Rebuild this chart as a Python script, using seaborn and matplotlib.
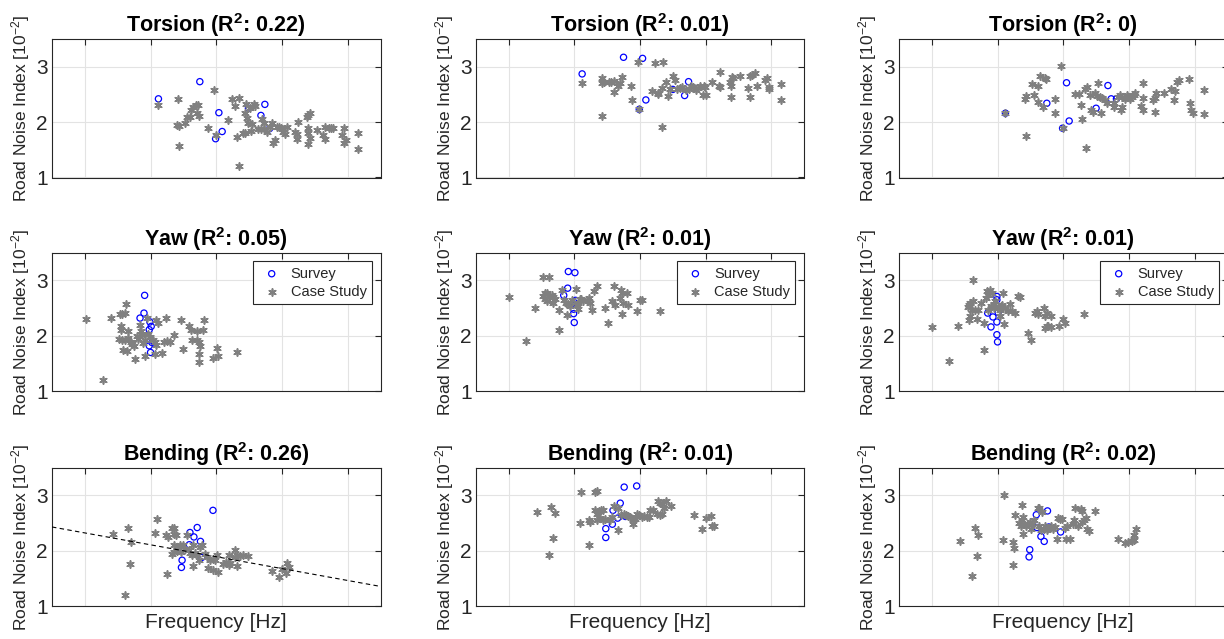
import numpy as np
import pandas as pd
import matplotlib
matplotlib.use("Agg")
import matplotlib.pyplot as plt
import seaborn as sns

# ---------------- data ----------------
modes = ["Torsion", "Yaw", "Bending"]
r2_torsion = ["0.22", "0.01", "0"]
r2_yaw = ["0.05", "0.01", "0.01"]
r2_bending = ["0.26", "0.01", "0.02"]

# fit line shown in Bending, column 1
fit_intercept = 2.43
fit_slope = -0.2146

# ---- Torsion, column 1
tor1_surv_x = [1.62, 2.25, 2.54, 2.59, 2.49, 2.99, 3.18, 3.24, 3.31]
tor1_surv_y = [2.42, 2.73, 2.17, 1.83, 1.70, 2.25, 2.12, 2.32, 1.88]
tor1_case_x = [1.62, 1.92, 1.91, 1.94, 1.93, 2.03, 2.06, 2.10, 2.12, 2.15, 2.19, 2.22, 2.20, 2.24,
               2.38, 2.47, 2.49, 2.68, 2.74, 2.78, 2.82, 2.84, 2.85, 2.91, 2.93, 2.93, 2.95, 2.97,
               2.98, 3.02, 3.03, 3.05, 3.08, 3.09, 3.14, 3.18, 3.22, 3.20, 3.23, 3.27, 3.32, 3.35,
               3.37, 3.40, 3.42, 3.46, 3.49, 3.52, 3.55, 3.58, 3.70, 3.73, 3.73, 3.74, 3.88, 3.90,
               3.93, 3.89, 3.90, 3.89, 3.92, 4.03, 4.13, 4.16, 4.16, 4.21, 4.24, 4.27, 4.44, 4.41,
               4.44, 4.48, 4.65, 4.65]
tor1_case_y = [2.31, 2.42, 1.95, 1.93, 1.57, 1.99, 2.10, 2.10, 2.22, 2.28, 2.30, 2.30, 2.16, 2.11,
               1.90, 2.58, 1.77, 2.04, 2.41, 2.29, 1.73, 1.21, 2.43, 1.81, 1.81, 2.17, 2.32, 2.08,
               1.98, 2.25, 1.84, 1.96, 2.33, 2.29, 1.87, 1.87, 1.87, 2.05, 1.98, 1.83, 1.92, 1.99,
               1.63, 1.67, 1.92, 1.92, 1.90, 1.83, 1.78, 1.92, 1.83, 1.78, 1.69, 2.01, 2.10, 2.13,
               2.16, 1.89, 1.81, 1.60, 1.72, 1.86, 1.77, 1.70, 1.92, 1.90, 1.90, 1.90, 1.90, 1.77,
               1.63, 1.67, 1.80, 1.52]

# ---- Torsion, column 2
tor2_surv_x = [1.62, 2.25, 2.54, 2.59, 2.49, 3.00, 3.18, 3.24, 3.31]
tor2_surv_y = [2.87, 3.17, 3.15, 2.40, 2.23, 2.59, 2.48, 2.73, 2.62]
tor2_case_x = [1.62, 1.92, 1.92, 1.96, 1.92, 2.03, 2.06, 2.10, 2.11, 2.16, 2.20, 2.23, 2.37, 2.38,
               2.47, 2.49, 2.68, 2.73, 2.85, 2.77, 2.78, 2.83, 2.84, 2.90, 2.92, 2.95, 3.01, 3.04,
               3.06, 3.11, 3.14, 3.20, 3.24, 3.27, 3.31, 3.36, 3.39, 3.42, 3.47, 3.49, 3.46, 3.50,
               3.59, 3.70, 3.72, 3.72, 3.87, 3.88, 3.90, 3.88, 3.92, 4.03, 4.14, 4.18, 4.21, 4.25,
               4.18, 4.28, 4.41, 4.44, 4.46, 4.47, 4.65, 4.65]
tor2_case_y = [2.70, 2.79, 2.71, 2.73, 2.11, 2.73, 2.73, 2.74, 2.54, 2.66, 2.70, 2.81, 2.66, 2.39,
               3.08, 2.23, 2.57, 3.06, 3.09, 2.53, 2.50, 2.61, 1.92, 2.73, 2.47, 2.59, 2.83, 2.76,
               2.59, 2.61, 2.63, 2.58, 2.59, 2.65, 2.63, 2.58, 2.62, 2.65, 2.66, 2.63, 2.49, 2.49,
               2.72, 2.66, 2.63, 2.90, 2.73, 2.66, 2.81, 2.45, 2.79, 2.83, 2.62, 2.83, 2.85, 2.89,
               2.45, 2.66, 2.76, 2.79, 2.63, 2.59, 2.68, 2.40]

# ---- Torsion, column 3
tor3_surv_x = [1.62, 2.25, 2.55, 2.59, 2.49, 3.00, 3.18, 3.23, 3.31]
tor3_surv_y = [2.16, 2.34, 2.71, 2.02, 1.89, 2.25, 2.66, 2.42, 2.42]
tor3_case_x = [1.62, 1.92, 1.93, 1.93, 2.02, 2.06, 2.11, 2.12, 2.15, 2.22, 2.24, 2.19, 2.37, 2.38,
               2.47, 2.49, 2.68, 2.74, 2.77, 2.78, 2.83, 2.86, 2.84, 2.91, 2.92, 2.95, 2.98, 3.01,
               3.03, 3.06, 3.09, 3.07, 3.14, 3.17, 3.27, 3.28, 3.34, 3.37, 3.39, 3.38, 3.40, 3.44,
               3.47, 3.49, 3.52, 3.54, 3.57, 3.59, 3.69, 3.71, 3.72, 3.72, 3.87, 3.89, 3.91, 3.89,
               4.03, 4.14, 4.18, 4.20, 4.23, 4.26, 4.41, 4.43, 4.44, 4.47, 4.64, 4.64]
tor3_case_y = [2.16, 2.42, 2.47, 1.75, 2.68, 2.49, 2.66, 2.37, 2.84, 2.79, 2.78, 2.28, 2.41, 2.16,
               3.01, 1.89, 2.51, 2.51, 2.30, 2.05, 2.59, 2.63, 1.54, 2.49, 2.22, 2.19, 2.52, 2.47,
               2.70, 2.45, 2.44, 2.16, 2.40, 2.34, 2.35, 2.28, 2.45, 2.49, 2.46, 2.22, 2.28, 2.41,
               2.49, 2.46, 2.41, 2.45, 2.49, 2.53, 2.29, 2.22, 2.70, 2.43, 2.40, 2.43, 2.52, 2.19,
               2.53, 2.59, 2.40, 2.57, 2.73, 2.76, 2.78, 2.35, 2.22, 2.16, 2.58, 2.14]

# ---- Yaw, column 1
yaw1_surv_x = [1.41, 1.40, 1.34, 1.49, 1.51, 1.48, 1.52, 1.48, 1.50]
yaw1_surv_y = [2.73, 2.41, 2.32, 2.25, 2.17, 2.11, 1.88, 1.82, 1.70]
yaw1_case_x = [0.51, 0.77, 0.90, 1.03, 1.06, 1.11, 1.13, 1.05, 1.05, 1.02, 1.06, 1.11, 1.08, 1.14,
               1.16, 1.16, 1.20, 1.22, 1.25, 1.27, 1.30, 1.31, 1.34, 1.36, 1.37, 1.39, 1.42, 1.41,
               1.44, 1.46, 1.49, 1.54, 1.57, 1.59, 1.57, 1.59, 1.62, 1.67, 1.70, 1.75, 1.79, 1.74,
               1.85, 1.97, 2.00, 2.08, 2.11, 2.13, 2.20, 2.20, 2.23, 2.25, 2.24, 2.24, 2.32, 2.30,
               2.45, 2.51, 2.52, 2.81]
yaw1_case_y = [2.31, 1.20, 2.32, 2.40, 2.40, 2.41, 2.57, 2.17, 2.10, 1.94, 1.93, 1.93, 1.74, 1.72,
               2.09, 1.96, 1.88, 1.85, 1.81, 1.58, 1.99, 1.95, 2.20, 2.08, 2.02, 1.87, 1.93, 1.63,
               2.33, 2.03, 1.97, 1.93, 1.88, 1.84, 1.67, 2.29, 2.23, 1.69, 1.89, 1.90, 1.89, 2.32,
               2.01, 2.28, 1.77, 2.17, 2.10, 1.92, 2.08, 1.93, 1.89, 1.82, 1.68, 1.52, 2.28, 2.11,
               1.60, 1.78, 1.63, 1.70]

# ---- Yaw, column 2
yaw2_surv_x = [1.41, 1.51, 1.40, 1.34, 1.52, 1.50, 1.49, 1.49, 1.50]
yaw2_surv_y = [3.16, 3.14, 2.86, 2.73, 2.64, 2.60, 2.48, 2.40, 2.24]
yaw2_case_x = [0.50, 0.76, 0.90, 1.02, 1.05, 1.08, 1.12, 1.11, 1.03, 1.06, 1.08, 1.16, 1.18, 1.21,
               1.18, 1.27, 1.27, 1.31, 1.34, 1.38, 1.41, 1.39, 1.43, 1.46, 1.54, 1.56, 1.59, 1.53,
               1.56, 1.61, 1.64, 1.69, 1.72, 1.74, 1.77, 1.80, 1.84, 1.97, 2.01, 2.07, 2.11, 2.12,
               2.21, 2.22, 2.20, 2.24, 2.23, 2.31, 2.32, 2.45, 2.50, 2.53, 2.81]
yaw2_case_y = [2.70, 1.91, 2.50, 2.72, 2.77, 2.78, 3.07, 2.72, 3.06, 2.66, 2.62, 2.74, 2.70, 2.66,
               2.59, 2.46, 2.11, 2.83, 2.65, 2.60, 2.57, 2.38, 2.53, 2.65, 2.56, 2.60, 2.66, 2.84,
               2.48, 2.66, 2.62, 2.65, 2.68, 2.59, 2.47, 2.80, 2.89, 2.50, 2.23, 2.62, 2.89, 2.56,
               2.83, 2.77, 2.68, 2.59, 2.39, 2.77, 2.56, 2.45, 2.64, 2.65, 2.44]

# ---- Yaw, column 3
yaw3_surv_x = [1.49, 1.49, 1.35, 1.51, 1.43, 1.49, 1.40, 1.49, 1.50]
yaw3_surv_y = [2.71, 2.65, 2.41, 2.42, 2.34, 2.25, 2.16, 2.02, 1.89]
yaw3_case_x = [0.50, 0.76, 0.90, 1.05, 1.07, 1.08, 1.06, 1.08, 1.11, 1.16, 1.21, 1.13, 1.13, 1.18,
               1.25, 1.29, 1.30, 1.32, 1.36, 1.34, 1.39, 1.42, 1.36, 1.40, 1.44, 1.45, 1.46, 1.50,
               1.53, 1.55, 1.57, 1.54, 1.59, 1.60, 1.61, 1.66, 1.72, 1.76, 1.69, 1.81, 1.84, 1.97,
               2.01, 2.07, 2.10, 2.12, 2.21, 2.22, 2.25, 2.22, 2.25, 2.27, 2.32, 2.31, 2.44, 2.50,
               2.53, 2.81]
yaw3_case_y = [2.16, 1.54, 2.18, 2.52, 2.56, 2.59, 2.29, 2.35, 2.47, 2.47, 2.47, 3.00, 2.62, 2.30,
               2.60, 1.75, 2.23, 2.68, 2.74, 2.80, 2.83, 2.78, 2.47, 2.53, 2.58, 2.50, 2.62, 2.50,
               2.47, 2.53, 2.56, 2.35, 2.78, 2.22, 2.50, 2.44, 2.44, 2.42, 2.58, 2.72, 2.70, 2.05,
               1.92, 2.41, 2.44, 2.40, 2.51, 2.35, 2.41, 2.14, 2.17, 2.18, 2.16, 2.36, 2.18, 2.30,
               2.23, 2.39]

# ---- Bending, column 1
ben1_surv_x = [2.45, 2.21, 2.10, 2.16, 2.26, 2.09, 2.28, 1.98, 1.97]
ben1_surv_y = [2.73, 2.42, 2.33, 2.25, 2.17, 2.11, 1.88, 1.83, 1.70]
ben1_case_x = [0.93, 1.15, 1.20, 1.19, 1.11, 1.57, 1.60, 1.75, 1.73, 1.76, 1.82, 1.85, 1.86, 1.88,
               1.83, 1.86, 1.90, 1.86, 1.91, 1.95, 1.99, 1.97, 2.03, 2.05, 2.08, 2.10, 2.13, 2.14,
               2.15, 2.18, 2.20, 2.23, 2.25, 2.28, 2.33, 2.36, 2.37, 2.41, 2.45, 2.48, 2.45, 2.51,
               2.53, 2.61, 2.65, 2.69, 2.71, 2.69, 2.78, 2.79, 2.82, 2.86, 2.90, 2.99, 2.81, 3.35,
               3.45, 3.50, 3.56, 3.58, 3.60]
ben1_case_y = [2.31, 2.42, 2.16, 1.77, 1.20, 2.33, 2.58, 1.58, 2.28, 2.25, 2.42, 2.42, 2.31, 2.28,
               1.95, 1.98, 1.99, 2.10, 2.07, 2.11, 2.10, 1.98, 2.04, 2.29, 2.02, 1.96, 1.92, 1.73,
               2.10, 1.96, 1.92, 1.84, 2.07, 2.10, 1.95, 1.89, 1.69, 1.83, 1.86, 1.83, 1.66, 1.92,
               1.61, 1.77, 1.80, 1.75, 1.78, 1.92, 2.02, 1.89, 1.92, 1.90, 1.92, 1.90, 1.72, 1.63,
               1.52, 1.67, 1.60, 1.78, 1.70]

# ---- Bending, column 2
ben2_surv_x = [2.45, 2.26, 2.20, 2.09, 2.16, 2.28, 2.08, 1.98, 1.98]
ben2_surv_y = [3.17, 3.15, 2.86, 2.73, 2.59, 2.62, 2.48, 2.40, 2.24]
ben2_case_x = [0.93, 1.14, 1.20, 1.18, 1.11, 1.58, 1.60, 1.73, 1.72, 1.74, 1.82, 1.84, 1.82, 1.84,
               1.87, 1.90, 1.94, 1.85, 1.89, 1.93, 1.97, 2.04, 2.07, 2.11, 2.16, 2.17, 2.21, 2.25,
               2.29, 2.32, 2.35, 2.39, 2.43, 2.40, 2.45, 2.49, 2.53, 2.56, 2.60, 2.64, 2.66, 2.70,
               2.76, 2.80, 2.83, 2.77, 2.80, 2.83, 2.86, 2.90, 2.98, 3.33, 3.44, 3.50, 3.58, 3.59,
               3.62]
ben2_case_y = [2.70, 2.79, 2.69, 2.23, 1.92, 2.50, 3.07, 2.11, 2.56, 2.52, 3.06, 3.08, 2.73, 2.67,
               2.72, 2.73, 2.74, 2.56, 2.60, 2.56, 2.58, 2.56, 2.61, 2.80, 2.78, 2.38, 2.64, 2.67,
               2.65, 2.62, 2.61, 2.57, 2.58, 2.49, 2.67, 2.64, 2.61, 2.63, 2.61, 2.61, 2.73, 2.74,
               2.67, 2.65, 2.67, 2.90, 2.86, 2.84, 2.78, 2.90, 2.81, 2.65, 2.40, 2.60, 2.62, 2.44,
               2.45]

# ---- Bending, column 3
ben3_surv_x = [2.26, 2.09, 2.10, 2.28, 2.16, 2.46, 2.21, 1.99, 1.98]
ben3_surv_y = [2.72, 2.65, 2.42, 2.43, 2.26, 2.34, 2.17, 2.02, 1.89]
ben3_case_x = [0.93, 1.15, 1.20, 1.18, 1.11, 1.58, 1.60, 1.73, 1.73, 1.75, 1.76, 1.82, 1.85, 1.87,
               1.89, 1.87, 1.88, 1.91, 1.94, 1.97, 2.00, 2.02, 2.01, 2.06, 2.11, 2.13, 2.13, 2.16,
               2.20, 2.22, 2.17, 2.25, 2.27, 2.32, 2.35, 2.38, 2.40, 2.42, 2.45, 2.48, 2.52, 2.55,
               2.54, 2.60, 2.65, 2.67, 2.68, 2.73, 2.77, 2.78, 2.78, 2.81, 2.84, 2.86, 2.89, 2.99,
               3.34, 3.44, 3.49, 3.54, 3.57, 3.58, 3.61]
ben3_case_y = [2.17, 2.42, 2.28, 1.91, 1.54, 2.20, 3.01, 1.75, 2.16, 2.05, 2.65, 2.50, 2.44, 2.55,
               2.61, 2.83, 2.31, 2.49, 2.44, 2.48, 2.52, 2.49, 2.40, 2.55, 2.78, 2.78, 2.44, 2.37,
               2.40, 2.44, 2.70, 2.37, 2.42, 2.44, 2.40, 2.43, 2.22, 2.60, 2.58, 2.57, 2.42, 2.44,
               2.22, 2.22, 2.49, 2.55, 2.77, 2.45, 2.75, 2.71, 2.52, 2.56, 2.59, 2.40, 2.36, 2.72,
               2.22, 2.14, 2.16, 2.17, 2.19, 2.28, 2.40]

# ---------------- styling ----------------
sns.set_style("white")
plt.rcParams["font.family"] = ["Liberation Sans", "DejaVu Sans"]
plt.rcParams["mathtext.fontset"] = "custom"
plt.rcParams["mathtext.rm"] = "Liberation Sans"
plt.rcParams["mathtext.it"] = "Liberation Sans:italic"
plt.rcParams["mathtext.bf"] = "Liberation Sans:bold"

W, H = 1224, 639
fig = plt.figure(figsize=(W / 100, H / 100), dpi=100)

col_left_px = [52, 475.7, 899]
row_top_px = [39, 252.7, 467.7]
ax_w_px, ax_h_px = 328.5, 138.5

panels = [
    [(tor1_surv_x, tor1_surv_y, tor1_case_x, tor1_case_y),
     (tor2_surv_x, tor2_surv_y, tor2_case_x, tor2_case_y),
     (tor3_surv_x, tor3_surv_y, tor3_case_x, tor3_case_y)],
    [(yaw1_surv_x, yaw1_surv_y, yaw1_case_x, yaw1_case_y),
     (yaw2_surv_x, yaw2_surv_y, yaw2_case_x, yaw2_case_y),
     (yaw3_surv_x, yaw3_surv_y, yaw3_case_x, yaw3_case_y)],
    [(ben1_surv_x, ben1_surv_y, ben1_case_x, ben1_case_y),
     (ben2_surv_x, ben2_surv_y, ben2_case_x, ben2_case_y),
     (ben3_surv_x, ben3_surv_y, ben3_case_x, ben3_case_y)],
]
r2_all = [r2_torsion, r2_yaw, r2_bending]

spine_c = "#262626"
grid_c = "#e3e3e3"
case_c = "#808080"
surv_c = "#0000ff"

for r in range(3):
    for c in range(3):
        left = col_left_px[c] / W
        bottom = (H - row_top_px[r] - ax_h_px) / H
        ax = fig.add_axes([left, bottom, ax_w_px / W, ax_h_px / H])
        sx, sy, cx, cy = panels[r][c]
        sns.scatterplot(x=sx, y=sy, ax=ax, marker="o", s=20, color=surv_c,
                        facecolor="none", edgecolor=surv_c, linewidth=0.9,
                        label="Survey", zorder=3)
        sns.scatterplot(x=cx, y=cy, ax=ax, marker=(6, 2, 0), s=26, color=case_c,
                        linewidth=1.2, label="Case Study", zorder=4)
        if r == 2 and c == 0:
            fx = np.array([0.0, 5.0])
            sns.lineplot(x=fx, y=fit_intercept + fit_slope * fx, ax=ax,
                         color="black", linestyle=(0, (4, 3)), linewidth=0.8, zorder=5)
        ax.set_xlim(0, 5)
        ax.set_ylim(1, 3.5)
        ax.set_xticks([0.5, 1.5, 2.5, 3.5, 4.5])
        ax.set_xticklabels([])
        ax.set_yticks([1, 2, 3])
        ax.grid(True, color=grid_c, linewidth=0.8)
        ax.set_axisbelow(True)
        for sp in ax.spines.values():
            sp.set_visible(True)
            sp.set_color(spine_c)
            sp.set_linewidth(0.8)
        ax.tick_params(direction="in", length=4, width=0.8, color=spine_c,
                       top=True, right=True, labelsize=15, labelcolor=spine_c, pad=3)
        ax.set_title(modes[r] + r" (R$^{\mathbf{2}}$: " + r2_all[r][c] + ")",
                     fontsize=15.5, fontweight="bold", color="black", pad=5)
        ax.set_ylabel(r"Road Noise Index [10$^{-2}$]", fontsize=12.5, color=spine_c, labelpad=3)
        if r == 2:
            ax.set_xlabel("Frequency [Hz]", fontsize=15, color=spine_c, labelpad=2)
        if r == 1:
            leg = ax.legend(loc="upper right", frameon=True, fancybox=False,
                            edgecolor=spine_c, framealpha=1, fontsize=10.5,
                            borderaxespad=0.6, handletextpad=0.4, borderpad=0.35,
                            labelspacing=0.3, handlelength=1.8)
            leg.get_frame().set_linewidth(0.8)
        else:
            lg = ax.get_legend()
            if lg is not None:
                lg.remove()

fig.savefig("out.png", dpi=100)
